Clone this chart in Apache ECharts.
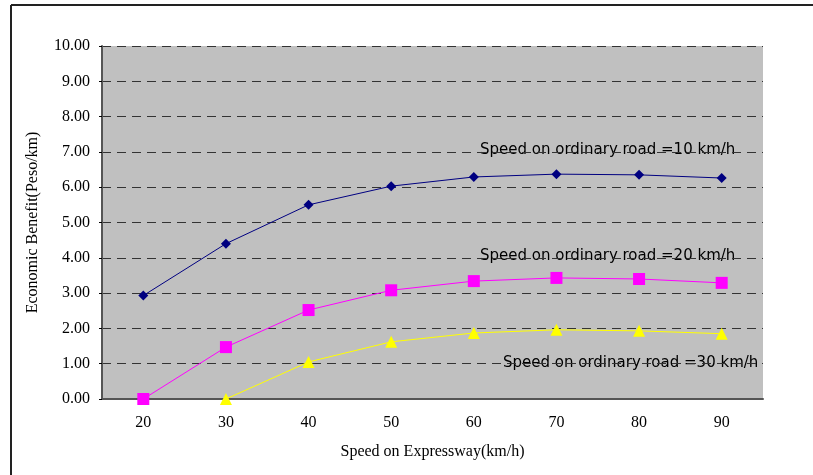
<!DOCTYPE html>
<html><head><meta charset="utf-8">
<script src="https://cdn.jsdelivr.net/npm/echarts@6/dist/echarts.min.js"></script>
<style>html,body{margin:0;padding:0;background:#fff}#c{width:813px;height:475px}</style>
</head><body><div id="c"></div>
<script>
const categories = ['20','30','40','50','60','70','80','90'];
const road10 = [2.93, 4.40, 5.50, 6.03, 6.29, 6.37, 6.35, 6.26];
const road20 = [0.00, 1.47, 2.52, 3.08, 3.34, 3.43, 3.40, 3.29];
const road30 = [null, 0.00, 1.05, 1.62, 1.87, 1.96, 1.93, 1.85];
const seriesNames = ['Speed on ordinary road =10 km/h','Speed on ordinary road =20 km/h','Speed on ordinary road =30 km/h'];

const chart = echarts.init(document.getElementById('c'), null, {renderer:'canvas'});
const serif = '"Liberation Serif","Times New Roman",serif';
const annFont = '"DejaVu Sans","Noto Sans",sans-serif';
chart.setOption({
  animation:false,
  backgroundColor:'#fff',
  grid:{left:102, top:46, right:50, bottom:76, show:true, backgroundColor:'#C0C0C0', borderWidth:0},
  xAxis:{type:'category', data:categories, boundaryGap:true,
    name:'Speed on Expressway(km/h)', nameLocation:'middle', nameGap:45,
    nameTextStyle:{fontFamily:serif, fontSize:16, color:'#000'},
    axisLine:{lineStyle:{color:'#555', width:2}},
    axisTick:{inside:true, length:5, lineStyle:{color:'#000'}},
    axisLabel:{fontFamily:serif, fontSize:16, color:'#000', margin:16},
    splitLine:{show:false}},
  yAxis:{type:'value', min:0, max:10, interval:1,
    name:'Economic Benefit(Peso/km)', nameLocation:'middle', nameGap:61,
    nameTextStyle:{fontFamily:serif, fontSize:16, color:'#000'},
    axisLine:{show:true, lineStyle:{color:'#555', width:2}},
    axisTick:{show:true, length:3, lineStyle:{color:'#000'}},
    axisLabel:{fontFamily:serif, fontSize:16, color:'#000', margin:12, formatter:v=>v.toFixed(2)},
    splitLine:{show:true, lineStyle:{color:'#333', type:[9,6], width:1}}},
  series:[
    {name:seriesNames[0], type:'line', data:road10, symbol:'diamond', symbolSize:10,
     lineStyle:{color:'#000080', width:1}, itemStyle:{color:'#000080'}},
    {name:seriesNames[1], type:'line', data:road20, symbol:'rect', symbolSize:12,
     lineStyle:{color:'#FF00FF', width:1}, itemStyle:{color:'#FF00FF'}},
    {name:seriesNames[2], type:'line', data:road30, symbol:'triangle', symbolSize:12,
     lineStyle:{color:'#FFFF00', width:1}, itemStyle:{color:'#FFFF00'}}
  ],
  graphic:[
    {type:'line', shape:{x1:11, y1:5, x2:11, y2:475}, style:{stroke:'#222', lineWidth:2}},
    {type:'line', shape:{x1:11, y1:5, x2:813, y2:5}, style:{stroke:'#222', lineWidth:2}},
    {type:'text', x:480, y:150, style:{text:seriesNames[0], font:'15px '+annFont, fill:'#000', verticalAlign:'middle'}},
    {type:'text', x:480, y:256, style:{text:seriesNames[1], font:'15px '+annFont, fill:'#000', verticalAlign:'middle'}},
    {type:'text', x:503, y:363, style:{text:seriesNames[2], font:'15px '+annFont, fill:'#000', verticalAlign:'middle'}}
  ]
});
</script></body></html>
